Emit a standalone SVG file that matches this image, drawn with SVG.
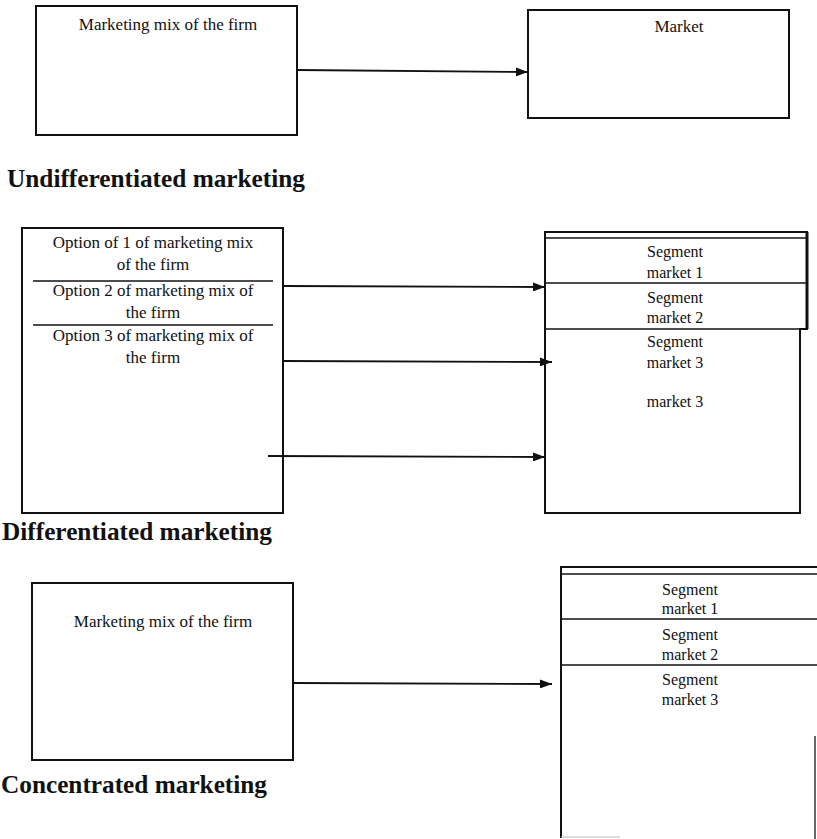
<svg xmlns="http://www.w3.org/2000/svg" width="817" height="839" viewBox="0 0 817 839">
  <style>
    .box { fill: none; stroke: #111; stroke-width: 2; }
    .rule { fill: none; stroke: #111; stroke-width: 1.5; }
    .conn { fill: none; stroke: #111; stroke-width: 1.8; }
    .lbl { font-family: "Liberation Serif", "Times New Roman", serif; font-size: 17px; fill: #111; text-anchor: middle; }
    .seg { font-size: 16px; }
    .title { font-family: "Liberation Serif", "Times New Roman", serif; font-size: 25px; font-weight: bold; fill: #111; }
  </style>
  <defs>
    <marker id="arrow" viewBox="0 0 12 9" refX="12" refY="4.5" markerWidth="12" markerHeight="9" markerUnits="userSpaceOnUse" orient="auto">
      <path d="M0,0 L12,4.5 L0,9 Z" fill="#111"/>
    </marker>
  </defs>

  <rect width="817" height="839" fill="#ffffff"/>

  <!-- Undifferentiated marketing -->
  <g id="undiff-firm">
    <rect class="box" x="36" y="6" width="261" height="129"/>
    <text class="lbl" x="168" y="30">Marketing mix of the firm</text>
  </g>
  <g id="undiff-market">
    <rect class="box" x="528" y="10" width="261" height="108"/>
    <text class="lbl" x="679" y="32">Market</text>
  </g>
  <text class="title" x="7" y="187" textLength="298" lengthAdjust="spacingAndGlyphs">Undifferentiated marketing</text>

  <!-- Differentiated marketing -->
  <g id="diff-firm">
    <rect class="box" x="22" y="228" width="261" height="285"/>
    <line class="rule" x1="33" y1="281" x2="273" y2="281"/>
    <line class="rule" x1="33" y1="325" x2="273" y2="325"/>
    <text class="lbl" x="153" y="248">Option of 1 of marketing mix</text>
    <text class="lbl" x="153" y="270">of the firm</text>
    <text class="lbl" x="153" y="296">Option 2 of marketing mix of</text>
    <text class="lbl" x="153" y="318">the firm</text>
    <text class="lbl" x="153" y="341">Option 3 of marketing mix of</text>
    <text class="lbl" x="153" y="363">the firm</text>
  </g>
  <g id="diff-segments">
    <path class="box" d="M545,232 L807,232 L807,329 L800,329 L800,513 L545,513 Z"/>
    <line class="rule" x1="545" y1="238" x2="807" y2="238"/>
    <line class="rule" x1="545" y1="283" x2="807" y2="283"/>
    <line class="rule" x1="545" y1="329" x2="807" y2="329"/>
    <line x1="807" y1="232" x2="807" y2="329" stroke="#111" stroke-width="3"/>
    <text class="lbl seg" x="675" y="257">Segment</text>
    <text class="lbl seg" x="675" y="278">market 1</text>
    <text class="lbl seg" x="675" y="303">Segment</text>
    <text class="lbl seg" x="675" y="323">market 2</text>
    <text class="lbl seg" x="675" y="347">Segment</text>
    <text class="lbl seg" x="675" y="368">market 3</text>
    <text class="lbl seg" x="675" y="407">market 3</text>
  </g>
  <text class="title" x="2" y="540" textLength="270" lengthAdjust="spacingAndGlyphs">Differentiated marketing</text>

  <!-- Concentrated marketing -->
  <g id="conc-firm">
    <rect class="box" x="32" y="583" width="261" height="177"/>
    <text class="lbl" x="163" y="627">Marketing mix of the firm</text>
  </g>
  <g id="conc-segments">
    <path class="box" d="M817,567 L561,567 L561,838"/>
    <line class="rule" x1="561" y1="574" x2="817" y2="574"/>
    <line class="rule" x1="561" y1="619" x2="817" y2="619"/>
    <line class="rule" x1="561" y1="665" x2="817" y2="665"/>
    <line x1="815" y1="736" x2="815" y2="839" stroke="#333" stroke-width="1.5"/>
    <line x1="561" y1="837" x2="620" y2="837" stroke="#bbb" stroke-width="1"/>
    <text class="lbl seg" x="690" y="595">Segment</text>
    <text class="lbl seg" x="690" y="614">market 1</text>
    <text class="lbl seg" x="690" y="640">Segment</text>
    <text class="lbl seg" x="690" y="660">market 2</text>
    <text class="lbl seg" x="690" y="685">Segment</text>
    <text class="lbl seg" x="690" y="705">market 3</text>
  </g>
  <text class="title" x="1" y="793" textLength="266" lengthAdjust="spacingAndGlyphs">Concentrated marketing</text>

  <!-- connectors -->
  <g id="connectors">
    <line class="conn" x1="297" y1="70" x2="528" y2="72" marker-end="url(#arrow)"/>
    <line class="conn" x1="283" y1="286" x2="545" y2="287" marker-end="url(#arrow)"/>
    <line class="conn" x1="283" y1="361" x2="552" y2="362" marker-end="url(#arrow)"/>
    <line class="conn" x1="268" y1="456" x2="545" y2="457" marker-end="url(#arrow)"/>
    <line class="conn" x1="293" y1="683" x2="552" y2="684" marker-end="url(#arrow)"/>
  </g>
</svg>
